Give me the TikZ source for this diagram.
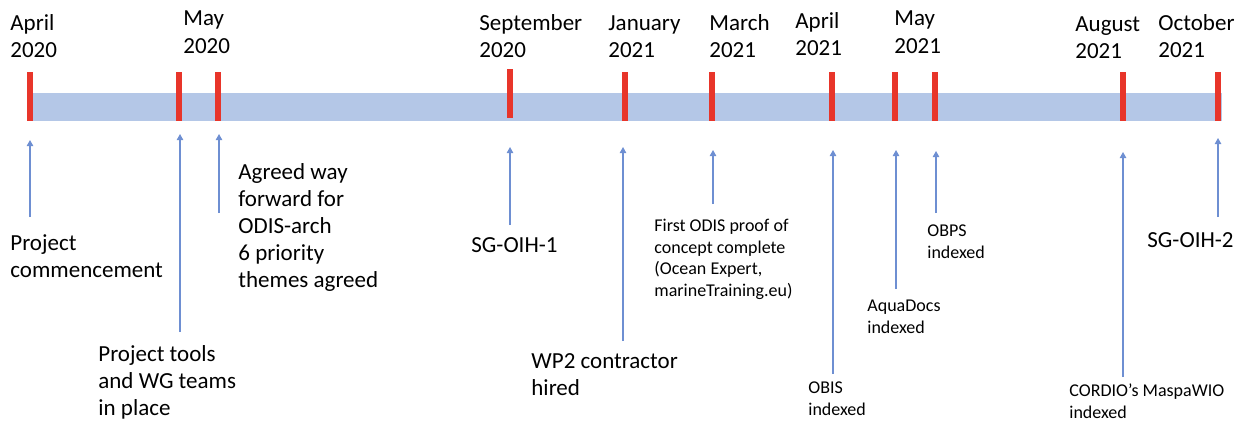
\documentclass[tikz,border=0pt]{standalone}
\usepackage{fontspec}
\setmainfont{Carlito}
\usetikzlibrary{positioning, arrows.meta}
\definecolor{barblue}{HTML}{B4C7E7}
\definecolor{tickred}{HTML}{E8352A}
\definecolor{arrblue}{HTML}{6E8FD2}

\begin{document}
\begin{tikzpicture}[x=0.5pt, y=-0.5pt,
    month/.style={anchor=base west, align=left, inner sep=0pt, font=\fontsize{11.5}{13.5}\selectfont},
    note/.style={month},
    smallnote/.style={anchor=base west, align=left, inner sep=0pt, font=\fontsize{9}{10.75}\selectfont},
    redtick/.style={fill=tickred, inner sep=0pt, minimum width=3pt, minimum height=24.5pt},
    evarrow/.style={arrblue, line width=0.6pt, -{Triangle[length=3pt, width=3.2pt]}}]
    \useasboundingbox (0,0) rectangle (1245,423);

    % Time bar
    \fill[barblue] (27,92.5) rectangle (1222,120.5);

    % Red ticks
    \foreach \n/\x in {apr20/30, maya20/179, mayb20/218, jan21/625, mar21/712,
                       apr21/832, maya21/895, mayb21/935, aug21/1123, oct21/1218}
        \node[redtick] (t-\n) at (\x,96.5) {};
    \node[redtick] (t-sep20) at (510,93) {};

    % Month labels (placed at the baseline of the last line)
    \node[month] (m-apr20) at (10,57)   {April\\2020};
    \node[month] (m-may20) at (183,53)  {May\\2020};
    \node[month] (m-sep20) at (479,57)  {September\\2020};
    \node[month] (m-jan21) at (608,57)  {January\\2021};
    \node[month] (m-mar21) at (709,57)  {March\\2021};
    \node[month] (m-apr21) at (795,55)  {April\\2021};
    \node[month] (m-may21) at (894,53)  {May\\2021};
    \node[month] (m-aug21) at (1075,58) {August\\2021};
    \node[month] (m-oct21) at (1158,57) {October\\2021};

    % Events
    \node[note] (e-start) at (10,277)  {Project\\commencement};
    \node[note] (e-tools) at (98,415)  {Project tools\\and WG teams\\in place};
    \node[note] (e-agree) at (238,287) {Agreed way\\forward for\\ODIS-arch\\6 priority\\themes agreed};
    \node[note] (e-sg1)   at (471,252) {SG-OIH-1};
    \node[note] (e-wp2)   at (531,395) {WP2 contractor\\hired};
    \node[smallnote] (e-odis)   at (654,296)  {First ODIS proof of\\concept complete\\(Ocean Expert,\\marineTraining.eu)};
    \node[smallnote] (e-obis)   at (808,415)  {OBIS\\indexed};
    \node[smallnote] (e-aqua)   at (867,333)  {AquaDocs\\indexed};
    \node[smallnote] (e-obps)   at (927,258)  {OBPS\\indexed};
    \node[smallnote] (e-cordio) at (1069,418) {CORDIO’s MaspaWIO\\indexed};
    \node[note] (e-sg2)   at (1147,247) {SG-OIH-2};

    % Arrows up to the bar
    \foreach \n/\x/\b/\t in {start/30/217/140, tools/180/332/134, agree/219/213/134,
                             sg1/510/225/147, wp2/623/341/147, odis/713/204/150,
                             obis/833/374/150, aqua/896/289/150, obps/936/213/151,
                             cordio/1123/377/152, sg2/1218/217/138} {
        \coordinate (s-\n) at (\x,\b);
        \coordinate (h-\n) at (\x,\t);
        \draw[evarrow] (s-\n) -- (h-\n);
    }
\end{tikzpicture}
\end{document}
